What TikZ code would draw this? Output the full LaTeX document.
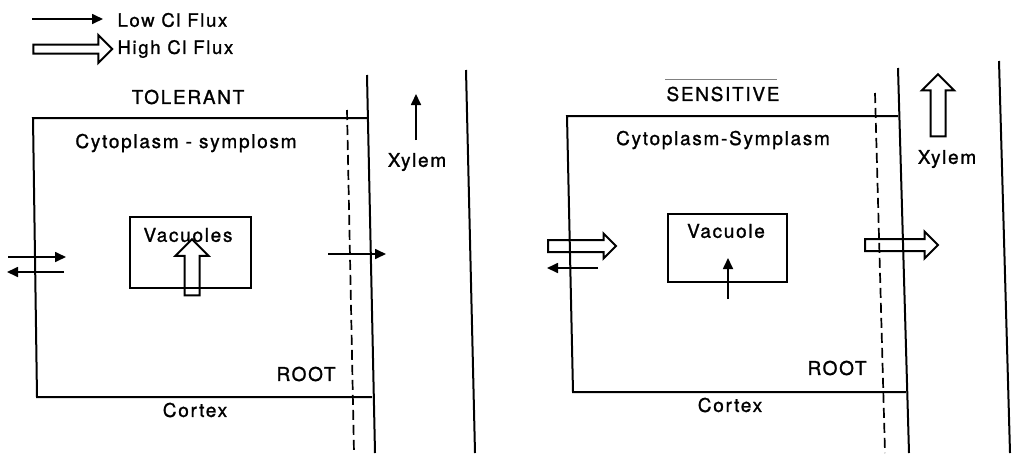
\documentclass[tikz,border=0pt]{standalone}
\usepackage{fontspec}
\setmainfont{TeX Gyre Heros}[LetterSpace=9,FakeBold=1.2]
\usepackage{tikz}
\usetikzlibrary{arrows.meta,positioning,shapes.arrows}

\begin{document}
\begin{tikzpicture}[x=1pt,y=-1pt,
  wall/.style={line width=2pt},
  cut/.style={line width=1.7pt,dash pattern=on 10pt off 5pt},
  flux/.style={line width=1.7pt,-{Triangle[length=11pt,width=10pt]}},
  bigflux/.style={single arrow,draw,line width=2pt,inner xsep=0pt,outer sep=0pt},
  lbl/.style={font=\fontsize{19}{21}\selectfont},
  small/.style={font=\fontsize{18.5}{20}\selectfont}
]
\useasboundingbox (0,0) rectangle (1014,453);
% legend
\coordinate (lowtail) at (32,19);
\coordinate (lowtip) at (103,19);
\draw[flux] (lowtail) -- (lowtip);
\node[small,anchor=west] (low) at (114,20) {Low Cl Flux};
\node[bigflux,minimum height=79pt,minimum width=26pt,inner ysep=3.5pt,
  single arrow head extend=9.5pt] (high) at (70.5,49) {};
\node[small,anchor=west] (highlbl) at (114,49) {High Cl Flux};
% tolerant
\node[lbl] (tol) at (188,97) {TOLERANT};
\draw[wall] (367,118) -- (33,118) -- (37,397) -- (372,397);
\draw[wall] (367,75) -- (375,453);
\draw[wall] (466,70) -- (475,453);
\draw[cut] (347,110) -- (354,453);
\node[lbl] (cyt1) at (186,143) {Cytoplasm - symplosm};
\node[lbl] (xyl1) at (417,162) {Xylem};
\coordinate (x1a) at (416,140);
\coordinate (x1b) at (416,94);
\draw[flux] (x1a) -- (x1b);
\node[draw,wall,minimum width=121pt,minimum height=71pt] (vac1) at (190.5,252.5) {};
\node[lbl] (vac1lbl) at (188,235) {Vacuoles};
\node[bigflux,rotate=90,minimum height=56pt,minimum width=31pt,inner ysep=6.5pt,
  single arrow head extend=9pt] (up1) at (192,271) {};
\coordinate (in1a) at (8,257);
\coordinate (in1b) at (66,257);
\draw[flux] (in1a) -- (in1b);
\coordinate (out1a) at (64,272);
\coordinate (out1b) at (7,272);
\draw[flux] (out1a) -- (out1b);
\coordinate (ld1a) at (328,254);
\coordinate (ld1b) at (386,254);
\draw[flux] (ld1a) -- (ld1b);
\node[lbl] (root1) at (306,374) {ROOT};
\node[lbl] (cor1) at (195,410) {Cortex};
% sensitive
\draw[gray,thin] (665,79) -- (777,79);
\node[lbl] (sen) at (723,94) {SENSITIVE};
\draw[wall] (898,116) -- (567,116) -- (573,392) -- (906,392);
\draw[wall] (898,68) -- (909,453);
\draw[wall] (999,61) -- (1010,453);
\draw[cut] (875,93) -- (885,453);
\node[lbl] (cyt2) at (723,140) {Cytoplasm-Symplasm};
\node[lbl] (xyl2) at (947,159) {Xylem};
\node[bigflux,rotate=90,minimum height=62pt,minimum width=30pt,inner ysep=6.5pt,
  single arrow head extend=8.5pt] (up2) at (938,109) {};
\node[draw,wall,minimum width=119pt,minimum height=68pt] (vac2) at (727.5,248) {};
\node[lbl] (vac2lbl) at (726,231) {Vacuole};
\coordinate (v2a) at (728,299);
\coordinate (v2b) at (728,258);
\draw[flux] (v2a) -- (v2b);
\node[bigflux,minimum height=68pt,minimum width=23pt,inner ysep=5pt,
  single arrow head extend=6.5pt] (in2) at (579,246) {};
\coordinate (out2a) at (598,268);
\coordinate (out2b) at (547,268);
\draw[flux] (out2a) -- (out2b);
\node[bigflux,minimum height=73pt,minimum width=25pt,inner ysep=5pt,
  single arrow head extend=7.5pt] (ld2) at (898.5,245) {};
\node[lbl] (root2) at (837,368) {ROOT};
\node[lbl] (cor2) at (730,405) {Cortex};
\end{tikzpicture}
\end{document}
